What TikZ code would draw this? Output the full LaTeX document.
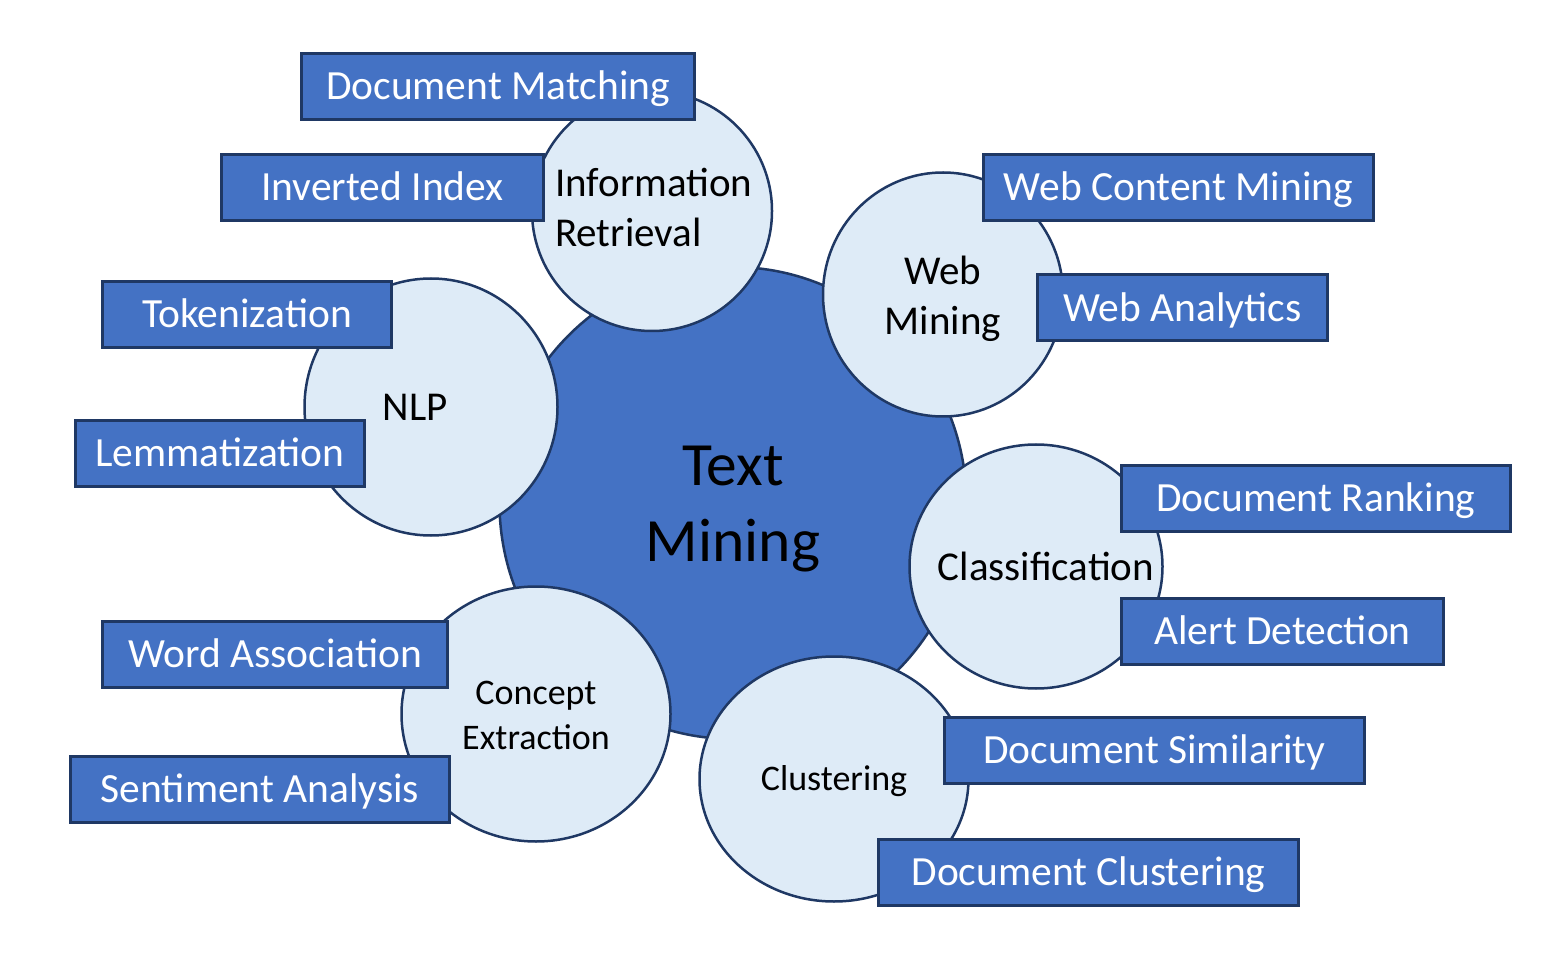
\documentclass[tikz,border=0pt]{standalone}
\usepackage{fontspec}
\setmainfont{Carlito}
\usetikzlibrary{shapes.geometric}
\definecolor{hub}{HTML}{4472C4}
\definecolor{rim}{HTML}{1F3864}
\definecolor{pale}{HTML}{DEEBF7}

\begin{document}
\begin{tikzpicture}[x=1pt,y=-1pt,
  topic/.style={ellipse, draw=rim, fill=pale, line width=2.5pt, inner sep=0pt},
  core/.style={ellipse, draw=rim, fill=hub, line width=2.5pt, inner sep=0pt},
  leaf/.style={rectangle, draw=rim, fill=hub, line width=3pt, text=white,
    inner sep=0pt, minimum height=66pt, text height=26.7pt, text depth=0pt,
    font=\fontsize{41.5}{50}\selectfont},
  bigtext/.style={text=black, align=center, inner sep=0pt,
    font=\fontsize{41}{50}\selectfont},
  smalltext/.style={text=black, align=center, inner sep=0pt,
    font=\fontsize{36}{45}\selectfont}
]
\useasboundingbox (0,0) rectangle (1556,973);

% central topic
\node[core, minimum width=467pt, minimum height=472pt] (tm) at (733,503) {};

% sub-topics
\node[topic, minimum width=240pt, minimum height=240pt] (ir) at (652,211) {};
\node[topic, minimum width=240pt, minimum height=244pt] (wm) at (943,294.5) {};
\node[topic, minimum width=253pt, minimum height=257pt] (nlp) at (431,407) {};
\node[topic, minimum width=253pt, minimum height=244pt] (cl) at (1036,566.5) {};
\node[topic, minimum width=269pt, minimum height=255pt] (ce) at (536,714) {};
\node[topic, minimum width=269pt, minimum height=245pt] (cu) at (834,779) {};

% labels of the topics
\node[text=black, align=center, inner sep=0pt,
  font=\fontsize{61.5}{76}\selectfont] (tmt) at (733,509) {Text\\Mining};
\node[bigtext, align=left, anchor=west] (irt) at (555,207.5) {Information\\Retrieval};
\node[bigtext] (wmt) at (943,298.5) {Web\\Mining};
\node[bigtext] (nlpt) at (415,407) {NLP};
\node[bigtext] (clt) at (1046,566) {Classification};
\node[smalltext] (cet) at (536,715.5) {Concept\\Extraction};
\node[smalltext] (cut) at (834,781.5) {Clustering};

% leaf boxes
\node[leaf, minimum width=393pt] (dm) at (498,86.5) {Document Matching};
\node[leaf, minimum width=322pt] (ii) at (382.5,187.5) {Inverted Index};
\node[leaf, minimum width=289pt] (tok) at (247,314.5) {Tokenization};
\node[leaf, minimum width=289pt] (lem) at (220,453.5) {Lemmatization};
\node[leaf, minimum width=345pt] (wa) at (275,654.5) {Word Association};
\node[leaf, minimum width=379pt] (sa) at (260,789.5) {Sentiment Analysis};
\node[leaf, minimum width=390pt] (wcm) at (1178.5,187.5) {Web Content Mining};
\node[leaf, minimum width=290pt] (wan) at (1182.5,308) {Web Analytics};
\node[leaf, minimum width=389pt] (dr) at (1316,498.5) {Document Ranking};
\node[leaf, minimum width=322pt] (ad) at (1282.5,631.5) {Alert Detection};
\node[leaf, minimum width=420pt] (ds) at (1154.5,750.5) {Document Similarity};
\node[leaf, minimum width=420pt] (dc) at (1088.5,872.5) {Document Clustering};
\end{tikzpicture}
\end{document}
